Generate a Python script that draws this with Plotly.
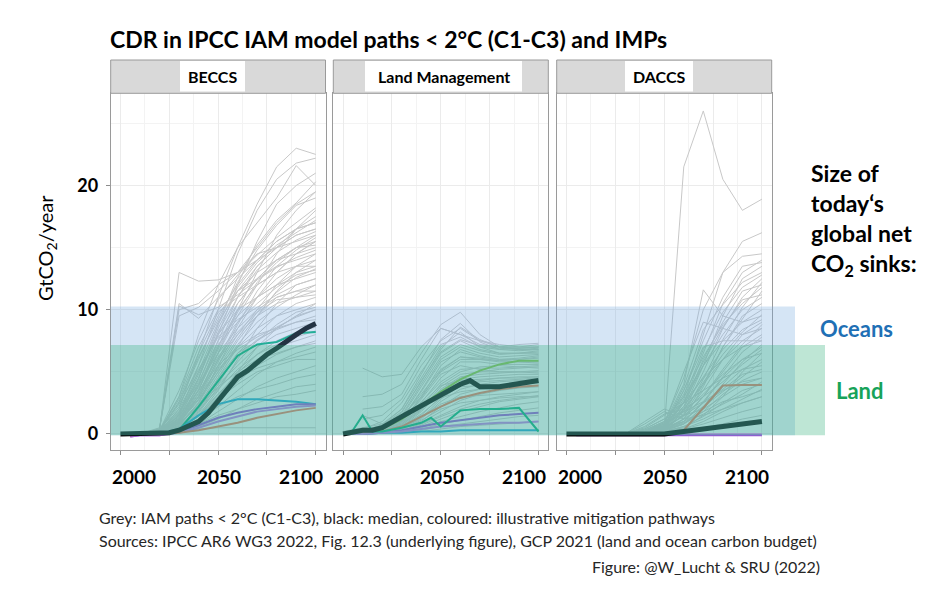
import plotly.graph_objects as go

# ---------------- DATA ----------------
years = [2000, 2010, 2020, 2030, 2040, 2050, 2060, 2070, 2080, 2090, 2100]

beccs_grey = [
    [0, 0, 0.2, 2.0, 6.5, 11.0, 15.0, 18.5, 21.5, 23.0, 22.5],
    [0, 0, 0.1, 1.5, 5.5, 10.0, 14.5, 18.0, 20.5, 21.8, 22.2],
    [0, 0, 0.2, 3.0, 8.0, 12.0, 15.0, 17.0, 19.0, 21.6, 20.0],
    [0, 0, 0.5, 10.5, 9.3, 11.0, 12.5, 14.0, 15.0, 16.0, 16.5],
    [0, 0, 0.3, 13.0, 12.3, 12.4, 13.0, 14.0, 15.5, 16.5, 17.0],
    [0, 0, 0.4, 10.0, 10.5, 12.0, 13.0, 14.5, 15.0, 15.5, 16.0],
    [0, 0, 0.2, 1.0, 4.0, 8.0, 12.0, 15.5, 18.5, 20.0, 21.0],
    [0, 0, 0.1, 0.8, 3.0, 6.5, 10.0, 13.0, 16.0, 18.0, 19.5],
    [0, 0, 0.2, 1.5, 4.5, 8.5, 11.5, 13.5, 15.0, 16.5, 18.0],
    [0, 0, 0.3, 2.5, 6.0, 9.5, 12.0, 14.0, 15.5, 16.5, 17.0],
    [0, 0, 0.1, 0.6, 2.5, 5.5, 8.5, 11.0, 13.0, 14.5, 15.5],
    [0, 0, 0.2, 1.2, 3.5, 7.0, 10.5, 12.5, 14.0, 15.0, 15.5],
    [0, 0, 0.3, 3.0, 7.0, 10.0, 11.5, 12.5, 13.5, 14.0, 14.5],
    [0, 0, 0.1, 0.5, 2.0, 4.5, 7.0, 9.5, 11.5, 13.0, 14.0],
    [0, 0, 0.2, 1.0, 3.0, 6.0, 9.0, 11.0, 12.5, 13.5, 13.5],
    [0, 0, 0.2, 2.0, 5.0, 8.0, 10.0, 11.0, 12.0, 12.5, 13.0],
    [0, 0, 0.1, 0.4, 1.5, 3.5, 6.0, 8.5, 10.5, 12.0, 12.5],
    [0, 0, 0.2, 0.8, 2.5, 5.0, 7.5, 9.5, 11.0, 11.5, 12.0],
    [0, 0, 0.3, 1.8, 4.0, 6.5, 8.5, 10.0, 11.0, 11.5, 11.5],
    [0, 0, 0.1, 0.5, 1.8, 4.0, 6.5, 8.0, 9.5, 10.5, 11.0],
    [0, 0, 0.2, 1.0, 2.8, 5.0, 7.0, 8.5, 9.5, 10.0, 10.5],
    [0, 0, 0.1, 0.3, 1.2, 3.0, 5.0, 7.0, 8.5, 9.5, 10.0],
    [0, 0, 0.2, 1.5, 3.5, 5.5, 7.0, 8.0, 8.5, 9.0, 9.5],
    [0, 0, 0.1, 0.6, 2.0, 4.0, 5.5, 7.0, 8.0, 8.5, 9.0],
    [0, 0, 0.1, 0.4, 1.5, 3.0, 4.5, 6.0, 7.0, 7.5, 8.0],
    [0, 0, 0.2, 0.9, 2.2, 3.8, 5.0, 6.0, 6.5, 7.0, 7.5],
    [0, 0, 0.1, 0.3, 1.0, 2.2, 3.5, 4.8, 5.8, 6.5, 7.0],
    [0, 0, 0.1, 0.5, 1.5, 2.8, 4.0, 5.0, 5.5, 6.0, 6.0],
    [0, 0, 0.1, 0.2, 0.8, 1.8, 2.8, 3.8, 4.5, 5.0, 5.5],
    [0, 0, 0.1, 0.4, 1.2, 2.2, 3.0, 3.6, 4.0, 4.5, 4.8],
    [0, 0, 0.0, 0.2, 0.6, 1.2, 2.0, 2.8, 3.3, 3.8, 4.0],
    [0, 0, 0.1, 0.3, 0.8, 1.5, 2.0, 2.5, 3.0, 3.2, 3.5],
    [0, 0, 0.0, 0.1, 0.4, 0.5, 0.5, 0.5, 0.5, 0.5, 0.5],
    [0, 0, 0.2, 1.0, 3.5, 7.5, 11.0, 13.5, 15.0, 16.0, 16.5],
    [0, 0, 0.3, 2.2, 5.5, 9.0, 11.5, 13.0, 14.0, 14.5, 15.0],
    [0, 0, 0.1, 0.7, 2.5, 5.5, 8.0, 10.0, 12.0, 13.5, 14.5],
    [0, 0, 0.2, 1.4, 4.2, 7.5, 9.5, 11.0, 12.0, 13.0, 13.5],
    [0, 0, 0.1, 0.9, 3.0, 6.0, 8.0, 9.5, 10.5, 11.0, 11.5],
    [0, 0, 0.2, 0.6, 2.0, 4.5, 6.5, 7.5, 8.5, 9.5, 10.5],
    [0, 0, 0.1, 1.2, 3.8, 7.0, 10.0, 12.0, 13.0, 13.5, 14.0],
    [0, 0, 0.4, 9.5, 10.2, 11.5, 13.0, 15.0, 17.0, 18.5, 19.5],
    [0, 0, 0.2, 1.0, 3.2, 6.5, 9.5, 12.0, 14.5, 16.5, 17.5],
    [0, 0, 0.2, 1.8, 5.0, 8.8, 11.8, 13.8, 15.2, 16.2, 17.2],
    [0, 0, 0.1, 1.1, 3.6, 6.8, 9.8, 12.2, 13.8, 15.0, 16.0],
    [0, 0, 0.3, 2.8, 6.5, 9.8, 11.0, 12.0, 13.0, 14.5, 15.5],
    [0, 0, 0.2, 1.6, 4.8, 8.0, 10.5, 12.5, 14.0, 15.0, 15.2],
    [0, 0, 0.1, 0.9, 2.8, 5.8, 8.8, 11.5, 13.5, 14.8, 15.8],
    [0, 0, 0.2, 1.3, 3.9, 7.2, 9.0, 10.5, 11.8, 12.8, 13.2],
    [0, 0, 0.3, 2.4, 5.2, 7.8, 9.2, 10.2, 11.2, 12.0, 12.5],
    [0, 0, 0.1, 0.7, 2.3, 4.8, 7.2, 9.0, 10.2, 11.2, 12.0],
    [0, 0, 0.2, 1.1, 3.3, 6.2, 8.2, 9.8, 10.8, 11.0, 11.2],
    [0, 0, 0.1, 0.5, 1.7, 3.8, 5.8, 7.5, 8.8, 9.8, 10.2],
    [0, 0, 0.2, 0.8, 2.4, 4.4, 6.2, 7.6, 8.4, 9.0, 9.2],
    [0, 0, 0.1, 0.4, 1.4, 3.2, 4.9, 6.4, 7.5, 8.2, 8.6],
    [0, 0, 0.1, 0.6, 1.9, 3.6, 5.2, 6.4, 7.2, 7.8, 8.3],
    [0, 0, 0.2, 1.2, 3.0, 5.2, 6.8, 7.8, 8.6, 9.4, 10.0],
    [0, 0, 0.1, 0.3, 1.0, 2.6, 4.2, 5.5, 6.4, 7.0, 7.3],
    [0, 0, 0.1, 0.5, 1.6, 3.2, 4.5, 5.3, 5.8, 6.2, 6.6],
    [0, 0, 0.2, 1.7, 4.5, 8.2, 11.0, 13.2, 14.6, 15.6, 16.3],
    [0, 0, 0.3, 3.5, 7.5, 10.8, 12.8, 14.4, 15.8, 17.0, 18.2],
    [0, 0, 0.2, 2.6, 6.2, 9.2, 12.2, 14.8, 16.8, 18.4, 19.0],
    [0, 0, 0.1, 1.3, 4.4, 8.8, 12.6, 15.2, 17.2, 18.6, 20.3],
    [0, 0, 0.4, 10.3, 9.6, 10.2, 11.2, 12.4, 13.4, 14.2, 14.8],
    [0, 0, 0.2, 0.9, 2.7, 5.3, 7.7, 9.8, 11.4, 12.6, 13.3],
]

land_grey = [
    [None, 5.3, 4.6, 4.8, 7.0, 8.5, 8.0, 7.2, 7.0, 7.2, 7.3],
    [None, 3.0, 3.2, 4.0, 6.5, 8.8, 9.8, 8.0, 7.0, 7.0, 7.2],
    [None, 2.0, 2.2, 3.2, 6.0, 8.5, 8.0, 7.5, 7.2, 7.0, 7.0],
    [None, 1.2, 1.5, 2.8, 5.5, 7.5, 8.5, 7.5, 7.0, 6.8, 6.8],
    [0.2, 0.5, 0.8, 2.0, 4.5, 7.0, 8.2, 7.0, 6.5, 6.5, 6.5],
    [0.1, 0.3, 0.6, 1.5, 4.0, 6.5, 7.5, 6.8, 6.5, 6.5, 6.6],
    [0.1, 0.3, 0.5, 1.2, 3.5, 6.0, 7.0, 6.5, 6.2, 6.3, 6.4],
    [0.0, 0.2, 0.5, 1.0, 3.0, 5.5, 6.8, 6.3, 6.0, 6.0, 6.1],
    [0.0, 0.3, 0.6, 1.5, 3.0, 5.0, 6.0, 6.0, 5.8, 5.8, 5.8],
    [0.0, 0.2, 0.4, 0.9, 2.5, 4.5, 5.8, 5.8, 5.6, 5.6, 5.6],
    [0.0, 0.2, 0.4, 0.8, 2.2, 4.0, 5.0, 5.4, 5.5, 5.4, 5.3],
    [0.0, 0.2, 0.3, 0.7, 2.0, 3.8, 4.8, 5.0, 5.0, 5.0, 5.0],
    [0.0, 0.1, 0.3, 0.6, 1.8, 3.4, 4.4, 4.6, 4.7, 4.8, 4.8],
    [0.0, 0.1, 0.3, 0.5, 1.5, 3.0, 4.0, 4.3, 4.5, 4.6, 4.6],
    [0.0, 0.1, 0.2, 0.5, 1.2, 2.6, 3.6, 4.0, 4.2, 4.3, 4.4],
    [0.0, 0.1, 0.2, 0.4, 1.0, 2.2, 3.2, 3.6, 3.8, 4.0, 4.1],
    [0.0, 0.1, 0.2, 0.4, 0.9, 1.8, 2.7, 3.2, 3.5, 3.7, 3.8],
    [0.0, 0.1, 0.2, 0.3, 0.8, 1.5, 2.2, 2.7, 3.0, 3.2, 3.4],
    [0.0, 0.1, 0.2, 0.3, 0.6, 1.2, 1.8, 2.2, 2.6, 2.8, 3.0],
    [0.0, 0.1, 0.1, 0.3, 0.5, 1.0, 1.4, 1.8, 2.1, 2.4, 2.6],
    [0.0, 0.1, 0.1, 0.2, 0.4, 0.8, 1.1, 1.4, 1.7, 1.9, 2.1],
    [0.0, 0.0, 0.1, 0.2, 0.3, 0.6, 0.8, 1.0, 1.2, 1.4, 1.5],
    [0.0, 0.0, 0.1, 0.1, 0.2, 0.4, 0.6, 0.7, 0.8, 0.9, 1.0],
    [0.1, 0.4, 1.0, 2.5, 5.0, 7.2, 7.8, 7.0, 6.8, 6.9, 7.0],
    [0.0, 0.3, 0.7, 1.8, 4.2, 6.8, 8.6, 7.6, 7.0, 6.9, 7.0],
    [0.1, 0.2, 0.5, 1.3, 3.2, 5.2, 6.2, 6.0, 5.9, 6.0, 6.2],
    [None, 1.5, 0.8, 1.0, 2.0, 3.5, 4.5, 5.0, 5.2, 5.3, 5.4],
    [0.0, 0.2, 0.4, 1.0, 2.8, 4.8, 5.5, 5.2, 5.0, 5.0, 4.9],
    [0.0, 0.1, 0.3, 0.8, 2.0, 3.2, 3.8, 3.9, 4.0, 4.0, 4.1],
    [0.0, 0.1, 0.2, 0.6, 1.4, 2.4, 3.0, 3.1, 3.2, 3.3, 3.4],
    [0.0, 0.1, 0.2, 0.4, 1.1, 2.0, 2.5, 2.7, 2.9, 3.0, 3.0],
    [0.0, 0.2, 0.5, 1.4, 3.8, 6.2, 7.2, 6.7, 6.4, 6.5, 6.7],
    [0.1, 0.3, 0.6, 1.7, 4.3, 6.6, 7.6, 7.1, 6.9, 6.8, 6.9],
    [0.0, 0.2, 0.4, 1.1, 2.6, 4.2, 5.2, 5.3, 5.3, 5.4, 5.5],
    [0.0, 0.1, 0.3, 0.7, 1.9, 3.6, 4.6, 4.8, 4.9, 5.0, 5.1],
    [0.0, 0.1, 0.3, 0.9, 2.4, 3.9, 4.3, 4.4, 4.5, 4.5, 4.6],
    [0.0, 0.1, 0.2, 0.5, 1.3, 2.8, 3.9, 4.2, 4.3, 4.4, 4.5],
    [0.0, 0.1, 0.2, 0.6, 1.6, 2.9, 3.4, 3.6, 3.7, 3.8, 3.9],
    [0.0, 0.1, 0.2, 0.3, 0.7, 1.4, 2.0, 2.4, 2.7, 2.9, 3.1],
    [0.1, 0.3, 0.7, 2.0, 4.8, 7.6, 8.9, 7.4, 6.8, 6.7, 6.8],
    [0.0, 0.2, 0.5, 1.2, 3.4, 5.8, 6.6, 6.2, 6.0, 6.1, 6.3],
    [0.0, 0.2, 0.5, 1.1, 2.9, 5.1, 6.2, 6.1, 5.9, 5.8, 5.7],
]

daccs_grey = [
    [0, 0, 0, 0, 0.1, 0.3, 21.5, 26.0, 20.5, 18.0, 18.9],
    [0, 0, 0, 0, 0.1, 0.5, 3.0, 8.0, 13.0, 15.5, 16.2],
    [0, 0, 0, 0, 0.2, 0.8, 4.0, 11.6, 9.5, 9.0, 9.5],
    [0, 0, 0, 0, 0.1, 0.4, 2.5, 6.5, 10.5, 13.0, 14.0],
    [0, 0, 0, 0, 0.1, 0.3, 2.0, 5.5, 9.5, 12.5, 13.5],
    [0, 0, 0, 0, 0.1, 0.3, 1.8, 5.0, 8.5, 11.0, 12.5],
    [0, 0, 0, 0, 0.2, 0.6, 2.5, 5.5, 8.0, 10.0, 11.0],
    [0, 0, 0, 0, 0.1, 0.4, 1.5, 4.0, 7.0, 9.5, 10.5],
    [0, 0, 0, 0, 0.3, 1.0, 3.0, 5.5, 7.5, 9.0, 10.0],
    [0, 0, 0, 0, 0.1, 0.5, 1.5, 3.5, 6.0, 8.0, 9.0],
    [0, 0, 0, 0, 0.2, 0.7, 2.0, 4.0, 6.0, 7.5, 8.5],
    [0, 0, 0, 0, 0.1, 0.3, 1.2, 3.0, 5.0, 7.0, 8.0],
    [0, 0, 0, 0, 0.4, 1.2, 2.5, 4.5, 6.0, 7.0, 7.5],
    [0, 0, 0, 0, 0.1, 0.4, 1.0, 2.5, 4.5, 6.0, 7.0],
    [0, 0, 0, 0, 0.2, 0.8, 1.8, 3.2, 4.8, 6.0, 6.5],
    [0, 0, 0, 0, 0.1, 0.3, 0.8, 2.0, 3.8, 5.2, 6.0],
    [0, 0, 0, 0, 0.5, 1.5, 2.5, 3.5, 4.5, 5.2, 5.5],
    [0, 0, 0, 0, 0.1, 0.3, 0.8, 1.8, 3.2, 4.3, 5.0],
    [0, 0, 0, 0, 0.3, 1.0, 1.5, 2.5, 3.5, 4.2, 4.5],
    [0, 0, 0, 0, 0.1, 0.2, 0.6, 1.4, 2.5, 3.5, 4.0],
    [0, 0, 0, 0, 0.2, 0.6, 1.0, 1.8, 2.6, 3.0, 3.5],
    [0, 0, 0, 0, 0.1, 0.2, 0.4, 1.0, 1.8, 2.5, 3.0],
    [0, 0, 0, 0, 0.1, 0.2, 0.4, 0.8, 1.3, 1.8, 2.2],
    [0, 0, 0, 0, 0.0, 0.1, 0.2, 0.5, 0.8, 1.2, 1.5],
    [0, 0, 0, 0, 1.0, 2.0, 1.5, 2.0, 3.0, 4.0, 4.5],
    [0, 0, 0, 0, 0.8, 1.8, 1.2, 1.5, 2.0, 2.5, 3.0],
    [0, 0, 0, 0, 0.2, 0.5, 3.5, 7.5, 11.0, 13.5, 13.8],
    [0, 0, 0, 0, 0.1, 0.4, 2.2, 6.0, 9.0, 11.5, 12.0],
    [0, 0, 0, 0, 0.2, 0.8, 5.0, 9.0, 8.5, 8.0, 8.5],
    [0, 0, 0, 0, 0.1, 0.3, 1.2, 3.8, 7.0, 9.2, 11.5],
    [0, 0, 0, 0, 0.1, 0.6, 3.5, 7.0, 7.5, 7.5, 7.5],
    [0, 0, 0, 0, 0.1, 0.2, 0.5, 1.5, 3.0, 5.0, 6.5],
    [0, 0, 0, 0, 0.2, 0.9, 4.5, 10.0, 13.0, 14.3, 14.5],
    [0, 0, 0, 0, 0.1, 0.4, 2.8, 6.8, 9.8, 11.8, 12.8],
    [0, 0, 0, 0, 0.2, 0.7, 3.2, 6.2, 8.8, 10.5, 11.8],
    [0, 0, 0, 0, 0.1, 0.3, 1.6, 4.4, 7.6, 10.2, 12.2],
    [0, 0, 0, 0, 0.3, 0.9, 2.2, 4.6, 6.8, 8.4, 9.2],
    [0, 0, 0, 0, 0.1, 0.5, 1.9, 4.2, 6.4, 8.2, 9.6],
    [0, 0, 0, 0, 0.2, 0.6, 1.4, 3.0, 5.2, 7.2, 8.8],
    [0, 0, 0, 0, 0.1, 0.3, 1.0, 2.6, 4.6, 6.6, 7.8],
    [0, 0, 0, 0, 0.6, 1.6, 2.0, 3.0, 4.2, 5.6, 6.8],
    [0, 0, 0, 0, 0.1, 0.2, 0.8, 2.2, 4.0, 5.8, 7.2],
    [0, 0, 0, 0, 0.2, 0.4, 1.2, 2.2, 3.4, 4.6, 5.8],
    [0, 0, 0, 0, 0.1, 0.3, 0.9, 1.6, 2.4, 3.2, 4.2],
    [0, 0, 0, 0, 0.4, 1.2, 1.8, 2.6, 3.6, 4.8, 5.2],
    [0, 0, 0, 0, 0.1, 0.5, 2.6, 5.8, 8.6, 10.8, 11.2],
    [0, 0, 0, 0, 0.2, 0.6, 3.8, 8.4, 10.4, 12.2, 13.0],
    [0, 0, 0, 0, 0.1, 0.2, 0.6, 1.2, 2.0, 2.8, 3.6],
]

# Illustrative mitigation pathways (IMPs)
imp_years = [2005, 2010, 2020, 2030, 2040, 2050, 2060, 2070, 2080, 2090, 2100]

beccs_imps = {
    "teal":   [-0.1, 0, 0, 0.3, 2.2, 4.3, 6.3, 7.2, 7.4, 8.1, 8.2],
    "cyan":   [-0.1, 0, 0, 0.4, 1.5, 2.4, 2.8, 2.8, 2.7, 2.6, 2.4],
    "purple": [-0.2, -0.1, -0.1, 0.2, 0.7, 1.3, 1.7, 2.0, 2.2, 2.4, 2.4],
    "violet": [-0.2, -0.1, -0.1, 0.1, 0.5, 1.0, 1.4, 1.8, 2.0, 2.2, 2.3],
    "brown":  [-0.1, 0, 0, 0.1, 0.3, 0.6, 0.9, 1.3, 1.6, 1.9, 2.1],
}
land_imps = {
    "lime":   [0.1, 0.2, 0.4, 1.2, 2.3, 3.4, 4.4, 5.1, 5.6, 5.9, 5.9],
    "brown":  [0.0, 0.1, 0.2, 0.6, 1.4, 2.2, 2.9, 3.3, 3.6, 3.8, 3.9],
    "cyan":   [0.0, 0.0, 0.1, 0.1, 0.2, 0.2, 0.3, 0.3, 0.3, 0.3, 0.3],
    "purple": [0.0, 0.0, 0.1, 0.3, 0.6, 0.9, 1.1, 1.3, 1.5, 1.6, 1.7],
    "violet": [0.0, 0.0, 0.1, 0.2, 0.4, 0.6, 0.7, 0.8, 0.9, 0.9, 1.0],
}
land_teal_years = [2005, 2010, 2015, 2020, 2030, 2040, 2045, 2050, 2060, 2070, 2080, 2090, 2100]
land_teal = [0.3, 1.5, 0.2, 0.2, 0.5, 0.9, 1.3, 0.6, 1.9, 2.0, 2.0, 2.1, 0.2]
daccs_imps = {
    "pink":   [0.0, 0.0, 0.0, 0.0, 0.0, 0.0, 0.0, 0.0, 0.0, 0.0, 0.0],
    "purple": [-0.1, -0.1, -0.1, -0.1, -0.1, -0.1, -0.1, -0.1, -0.1, -0.1, -0.1],
    "brown":  [0.0, 0.0, 0.0, 0.0, 0.0, 0.0, 0.3, 2.1, 3.9, 3.95, 3.95],
}

# Medians
beccs_median_years = [2000, 2010, 2020, 2025, 2030, 2035, 2040, 2045, 2050, 2055, 2060,
                      2065, 2070, 2075, 2080, 2085, 2090, 2095, 2100]
beccs_median = [0, 0, 0, 0.1, 0.3, 0.6, 1.0, 1.7, 2.7, 3.7, 4.6, 5.1, 5.8, 6.4, 6.9, 7.5, 8.0, 8.5, 8.9]
land_median_years = [2000, 2005, 2010, 2015, 2020, 2030, 2040, 2050, 2060, 2065, 2070, 2080, 2090, 2100]
land_median = [0.0, 0.2, 0.3, 0.3, 0.5, 1.4, 2.3, 3.2, 4.0, 4.3, 3.8, 3.8, 4.1, 4.3]
daccs_median = [0, 0, 0, 0, 0, 0, 0.2, 0.4, 0.6, 0.8, 1.0]

panel_names = ["BECCS", "Land Management", "DACCS"]
x_tick_values = [2000, 2025, 2050, 2075, 2100]
x_tick_labels = ["2000", "2050", "2100"]
x_label_pos = [2007, 2050.5, 2092.5]
y_tick_values = [0, 10, 20]

# Today's global net CO2 sinks (band tops, GtCO2/yr)
sink_names = ["Oceans", "Land"]
sink_tops = [10.25, 7.16]
sink_bottom = -0.1

# ---------------- STYLE ----------------
PAGE_OFF = 8            # default body margin of the html page
FW, FH = 924, 579       # figure size so that page is 940x595
FONT = "Lato"
GREY = "#c8c8c8"
IMP_COLORS = {
    "teal": "#00b07a", "cyan": "#19a7d8", "purple": "#9a55d8", "violet": "#c07ae8",
    "brown": "#f0785a", "lime": "#8cc63f", "pink": "#f090f0",
}


def px(x):
    return (x - PAGE_OFF) / FW


def py(y):
    return 1 - (y - PAGE_OFF) / FH


panel_left = [110.7, 333.3, 556.7]
panel_right = [325.5, 548.3, 771.7]
plot_top, plot_bottom, strip_top = 93.3, 450.0, 60.0
label_boxes = [(180, 245), (365, 522), (625, 693)]

fig = go.Figure()

grey_sets = [beccs_grey, land_grey, daccs_grey]
for i, grey in enumerate(grey_sets):
    xa = "x" if i == 0 else f"x{i+1}"
    ya = "y" if i == 0 else f"y{i+1}"
    for row in grey:
        fig.add_trace(go.Scatter(x=years, y=row, mode="lines", line=dict(color=GREY, width=1),
                                 xaxis=xa, yaxis=ya, showlegend=False, hoverinfo="skip",
                                 connectgaps=False))

# IMPs
for name, vals in beccs_imps.items():
    fig.add_trace(go.Scatter(x=imp_years, y=vals, mode="lines",
                             line=dict(color=IMP_COLORS[name], width=2),
                             xaxis="x", yaxis="y", showlegend=False))
for name, vals in land_imps.items():
    fig.add_trace(go.Scatter(x=imp_years, y=vals, mode="lines",
                             line=dict(color=IMP_COLORS[name], width=2),
                             xaxis="x2", yaxis="y2", showlegend=False))
fig.add_trace(go.Scatter(x=land_teal_years, y=land_teal, mode="lines",
                         line=dict(color=IMP_COLORS["teal"], width=2),
                         xaxis="x2", yaxis="y2", showlegend=False))
for name, vals in daccs_imps.items():
    fig.add_trace(go.Scatter(x=imp_years, y=vals, mode="lines",
                             line=dict(color=IMP_COLORS[name], width=2),
                             xaxis="x3", yaxis="y3", showlegend=False))

# Medians
fig.add_trace(go.Scatter(x=beccs_median_years, y=beccs_median, mode="lines",
                         line=dict(color="black", width=5), xaxis="x", yaxis="y", showlegend=False))
fig.add_trace(go.Scatter(x=land_median_years, y=land_median, mode="lines",
                         line=dict(color="black", width=5), xaxis="x2", yaxis="y2", showlegend=False))
fig.add_trace(go.Scatter(x=years, y=daccs_median, mode="lines",
                         line=dict(color="black", width=5), xaxis="x3", yaxis="y3", showlegend=False))

layout = dict(
    width=FW, height=FH, margin=dict(l=0, r=0, t=0, b=0),
    paper_bgcolor="white", plot_bgcolor="white",
    font=dict(family=FONT, color="black"),
    showlegend=False,
)
ydom = [py(plot_bottom), py(plot_top)]
minor_x = [2012.5, 2037.5, 2062.5, 2087.5]
for i in range(3):
    sfx = "" if i == 0 else str(i + 1)
    xa = "x" + sfx
    ya = "y" + sfx
    layout["xaxis" + sfx] = dict(
        domain=[px(panel_left[i]), px(panel_right[i])], range=[1995, 2105], anchor=ya,
        tickvals=x_tick_values, ticks="outside", ticklen=4, tickcolor="#8c8c8c",
        showticklabels=False, showgrid=True, gridcolor="#ebebeb", gridwidth=1,
        minor=dict(tickvals=minor_x, showgrid=True, gridcolor="#f3f3f3", ticks=""),
        showline=True, mirror=True, linecolor="#9a9a9a", linewidth=1, zeroline=False,
        fixedrange=True,
    )
    layout["yaxis" + sfx] = dict(
        domain=ydom, range=[-1.29, 27.42], anchor=xa,
        tickvals=y_tick_values, ticks="outside" if i == 0 else "", ticklen=4, tickcolor="#8c8c8c",
        showticklabels=(i == 0), tickfont=dict(family=FONT, size=18, color="black", weight="bold"),
        ticklabelstandoff=4,
        showgrid=True, gridcolor="#ebebeb", gridwidth=1,
        minor=dict(tickvals=[5, 15, 25], showgrid=True, gridcolor="#f3f3f3", ticks=""),
        showline=True, mirror=True, linecolor="#9a9a9a", linewidth=1, zeroline=False,
        fixedrange=True,
    )
fig.update_layout(**layout)

shapes = []
# sink bands (over the lines)
band_right = [795, 825]
band_fill = ["rgba(115,168,222,0.30)", "rgba(40,172,115,0.30)"]
for k in range(2):
    shapes.append(dict(type="rect", xref="paper", yref="y", x0=px(panel_left[0]), x1=px(band_right[k]),
                       y0=sink_bottom, y1=sink_tops[k], fillcolor=band_fill[k], line=dict(width=0),
                       layer="above"))
# strips
for i in range(3):
    shapes.append(dict(type="rect", xref="paper", yref="paper", x0=px(panel_left[i]), x1=px(panel_right[i]),
                       y0=py(plot_top), y1=py(strip_top), fillcolor="#d9d9d9",
                       line=dict(color="#9a9a9a", width=1), layer="above"))
    bx0, bx1 = label_boxes[i]
    shapes.append(dict(type="rect", xref="paper", yref="paper", x0=px(bx0), x1=px(bx1),
                       y0=py(91.5), y1=py(61), fillcolor="white", line=dict(width=0), layer="above"))
fig.update_layout(shapes=shapes)

ann = []
for i, name in enumerate(panel_names):
    bx0, bx1 = label_boxes[i]
    ann.append(dict(text=f"<b>{name}</b>", xref="paper", yref="paper", x=px((bx0 + bx1) / 2), y=py(76),
                    xanchor="center", yanchor="middle", showarrow=False,
                    font=dict(family=FONT, size=16, color="black")))
    xa = "x" if i == 0 else f"x{i+1}"
    for lab, pos in zip(x_tick_labels, x_label_pos):
        ann.append(dict(text=f"<b>{lab}</b>", xref=xa, yref="paper", x=pos, y=py(476),
                        xanchor="center", yanchor="middle", showarrow=False,
                        font=dict(family=FONT, size=19, color="black")))

ann.append(dict(text="<b>CDR in IPCC IAM model paths < 2°C (C1-C3) and IMPs</b>", xref="paper", yref="paper",
                x=px(108), y=py(39), xanchor="left", yanchor="middle", showarrow=False,
                font=dict(family=FONT, size=23, color="black")))
ann.append(dict(text="GtCO<sub>2</sub>/year", xref="paper", yref="paper", x=px(47), y=py(248),
                xanchor="center", yanchor="middle", textangle=-90, showarrow=False,
                font=dict(family=FONT, size=20, color="black")))
ann.append(dict(text="<b>Size of<br>today‘s<br>global net<br>CO<sub>2</sub> sinks:</b>", xref="paper",
                yref="paper", x=px(809), y=py(219), xanchor="left", yanchor="middle", align="left",
                showarrow=False, font=dict(family=FONT, size=23, color="black")))
ann.append(dict(text=f"<b>{sink_names[0]}</b>", xref="paper", yref="paper", x=px(818), y=py(328),
                xanchor="left", yanchor="middle", showarrow=False,
                font=dict(family=FONT, size=22, color="#1f70b5")))
ann.append(dict(text=f"<b>{sink_names[1]}</b>", xref="paper", yref="paper", x=px(834), y=py(390),
                xanchor="left", yanchor="middle", showarrow=False,
                font=dict(family=FONT, size=22, color="#17a35a")))
foot_font = dict(family=FONT, size=16, color="#262626")
ann.append(dict(text="Grey: IAM paths < 2°C (C1-C3), black: median, coloured: illustrative mitigation pathways",
                xref="paper", yref="paper", x=px(97), y=py(517), xanchor="left", yanchor="middle",
                showarrow=False, font=foot_font))
ann.append(dict(text="Sources: IPCC AR6 WG3 2022, Fig. 12.3 (underlying figure), GCP 2021 (land and ocean carbon budget)",
                xref="paper", yref="paper", x=px(97), y=py(540), xanchor="left", yanchor="middle",
                showarrow=False, font=foot_font))
ann.append(dict(text="Figure: @W_Lucht & SRU (2022)", xref="paper", yref="paper", x=px(822), y=py(566),
                xanchor="right", yanchor="middle", showarrow=False, font=foot_font))
fig.update_layout(annotations=ann)

fig.write_html("out.html")
